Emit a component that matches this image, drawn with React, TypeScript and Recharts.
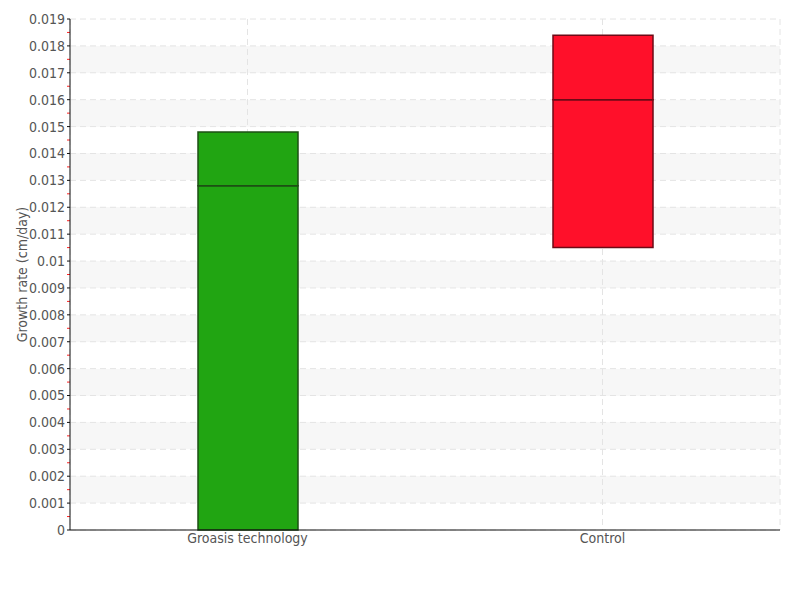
import { BarChart, Bar, Cell, XAxis, YAxis, CartesianGrid, ReferenceLine } from "recharts";

const categories = ["Groasis technology", "Control"];
const lowerQuartile = [0, 0.0105];
const medians = [0.0128, 0.016];
const upperQuartile = [0.0148, 0.0184];

const boxFill = ["#21a512", "#ff102a"];
const boxStroke = ["#1d4f14", "#6e0a16"];

const yTicks = [
    0, 0.001, 0.002, 0.003, 0.004, 0.005, 0.006, 0.007, 0.008, 0.009, 0.01,
    0.011, 0.012, 0.013, 0.014, 0.015, 0.016, 0.017, 0.018, 0.019,
];
const yMinorTicks = [
    0.0005, 0.0015, 0.0025, 0.0035, 0.0045, 0.0055, 0.0065, 0.0075, 0.0085, 0.0095,
    0.0105, 0.0115, 0.0125, 0.0135, 0.0145, 0.0155, 0.0165, 0.0175, 0.0185,
];

const FONT = "'DejaVu Sans Condensed', 'Liberation Sans Narrow', sans-serif";

// short red mark just left of the y axis
const MinorTick = (p: any) => (
    <line x1={p.x1 - 3} x2={p.x1} y1={p.y1} y2={p.y1} stroke="#ff2020" strokeWidth={1} />
);

export default function App() {
    // box plot = invisible base + two stacked segments split at the median
    const data = categories.map((name, i) => ({
        name,
        base: lowerQuartile[i],
        lower: medians[i] - lowerQuartile[i],
        upper: upperQuartile[i] - medians[i],
    }));

    return (
        <div style={{ position: "absolute", left: 0, top: 0, fontFamily: FONT }}>
            <BarChart
                width={800}
                height={600}
                data={data}
                margin={{ top: 19, right: 20, bottom: 40, left: 0 }}
            >
                <CartesianGrid
                    stroke="#e4e4e4"
                    strokeDasharray="6 4"
                    horizontalFill={["#ffffff", "#f7f7f7"]}
                    fillOpacity={1}
                />
                <YAxis
                    width={70}
                    domain={[0, 0.019]}
                    ticks={yTicks}
                    interval={0}
                    tickSize={3}
                    tickMargin={2}
                    axisLine={{ stroke: "#111" }}
                    tickLine={{ stroke: "#111" }}
                    tick={{ fill: "#555", fontSize: 14, fontFamily: FONT }}
                    label={{
                        value: "Growth rate (cm/day)",
                        angle: -90,
                        position: "insideLeft",
                        offset: 22,
                        style: { textAnchor: "middle", fill: "#555", fontSize: 14, fontFamily: FONT },
                    }}
                />
                <XAxis
                    dataKey="name"
                    height={30}
                    axisLine={{ stroke: "#111" }}
                    tickLine={false}
                    tickSize={3}
                    tickMargin={0}
                    tick={{ fill: "#555", fontSize: 14, fontFamily: FONT }}
                />
                {yMinorTicks.map((v) => (
                    <ReferenceLine key={v} y={v} shape={MinorTick} />
                ))}
                <Bar dataKey="base" stackId="box" fill="none" stroke="none" barSize={100} isAnimationActive={false} />
                <Bar dataKey="lower" stackId="box" barSize={100} isAnimationActive={false}>
                    {data.map((_, i) => (
                        <Cell key={i} fill={boxFill[i]} stroke={boxStroke[i]} strokeWidth={1.5} />
                    ))}
                </Bar>
                <Bar dataKey="upper" stackId="box" barSize={100} isAnimationActive={false}>
                    {data.map((_, i) => (
                        <Cell key={i} fill={boxFill[i]} stroke={boxStroke[i]} strokeWidth={1.5} />
                    ))}
                </Bar>
            </BarChart>
        </div>
    );
}
